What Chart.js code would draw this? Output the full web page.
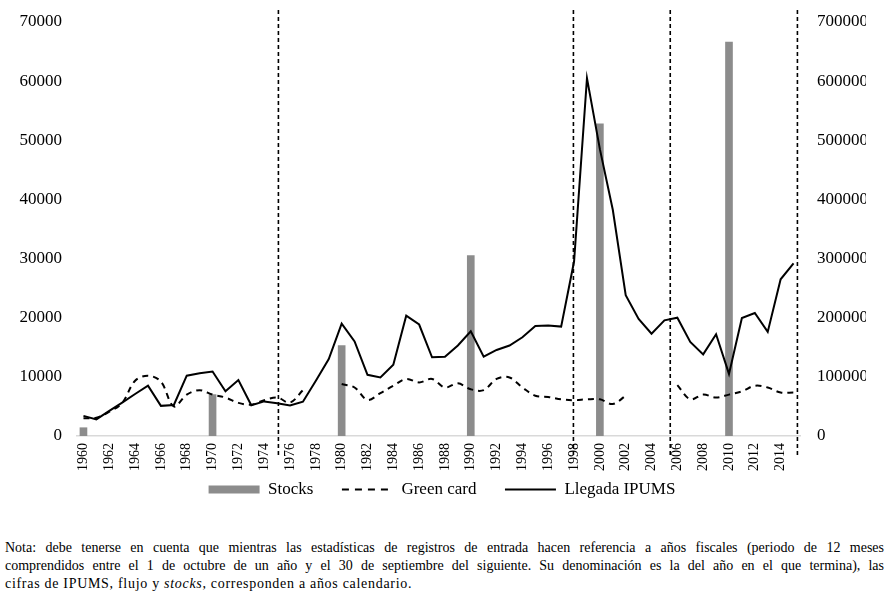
<!DOCTYPE html>
<html>
<head>
	<title>Stocks, Green card y Llegada IPUMS</title>
	<style>
		body { margin: 0; background: #fff; }
		#wrap { position: relative; width: 887px; height: 596px; }
		#nota { position: absolute; left: 5px; top: 539px; width: 879px; font-family: 'Liberation Serif', 'Times New Roman', serif; font-size: 14px; line-height: 18px; color: #000; }
		#nota .j { text-align: justify; text-align-last: justify; }
		#nota .u { letter-spacing: 0.7px; }
	</style>
	<script src="https://cdn.jsdelivr.net/npm/chart.js@4.4.0/dist/chart.umd.min.js"></script>
</head>
<body>
<div id="wrap">
	<canvas id="grafico" width="887" height="508"></canvas>
	<div id="nota">
		<div class="j">Nota: debe tenerse en cuenta que mientras las estadísticas de registros de entrada hacen referencia a años fiscales (periodo de 12 meses</div>
		<div class="j">comprendidos entre el 1 de octubre de un año y el 30 de septiembre del siguiente. Su denominación es la del año en el que termina), las</div>
		<div class="u">cifras de IPUMS, flujo y <i>stocks</i>, corresponden a años calendario.</div>
	</div>
</div>

<script type="text/javascript">

	// años 1960-2015
	var years = [1960, 1961, 1962, 1963, 1964, 1965, 1966, 1967, 1968, 1969,
		1970, 1971, 1972, 1973, 1974, 1975, 1976, 1977, 1978, 1979,
		1980, 1981, 1982, 1983, 1984, 1985, 1986, 1987, 1988, 1989,
		1990, 1991, 1992, 1993, 1994, 1995, 1996, 1997, 1998, 1999,
		2000, 2001, 2002, 2003, 2004, 2005, 2006, 2007, 2008, 2009,
		2010, 2011, 2012, 2013, 2014, 2015];

	// stocks censales (eje derecho)
	var stocks = [14000, null, null, null, null, null, null, null, null, null,
		70000, null, null, null, null, null, null, null, null, null,
		153000, null, null, null, null, null, null, null, null, null,
		305000, null, null, null, null, null, null, null, null, null,
		528000, null, null, null, null, null, null, null, null, null,
		666000, null, null, null, null, null];

	// green cards (eje izquierdo)
	var greenCard = [3000, 3100, 4100, 5600, 9350, 10200, 9200, 5000, 7000, 7750,
		7000, 6500, 5600, 5300, 6050, 6500, 5650, 7750, null, null,
		8800, 8200, 6100, 7250, 8500, 9650, 9050, 9650, 8200, 8900,
		7900, 7750, 9650, 9900, 8200, 6800, 6600, 6200, 6050, 6200,
		6200, 5400, 6800, null, null, null, 8600, 6200, 7000, 6500,
		7000, 7550, 8500, 8200, 7350, 7350];

	// llegadas segun IPUMS (eje izquierdo)
	var llegadaIpums = [3400, 2800, 4250, 5650, 7100, 8500, 5100, 5250, 10200, 10600,
		10900, 7550, 9450, 5200, 5850, 5550, 5150, 5800, 9350, 13000,
		19000, 16000, 10350, 9900, 12050, 20350, 18850, 13300, 13400, 15300,
		17700, 13400, 14550, 15300, 16700, 18600, 18700, 18500, 29500, 60500,
		48500, 38250, 23800, 19800, 17300, 19550, 20000, 15900, 13800, 17200,
		10500, 19950, 20800, 17600, 26500, 29200];

	var leftTicks = [0, 10000, 20000, 30000, 40000, 50000, 60000, 70000];
	var rightTicks = [0, 100000, 200000, 300000, 400000, 500000, 600000, 700000];

	// lineas verticales discontinuas (cortes de periodo)
	var cortes = [1975.1, 1997.95, 2005.45, 2015.3];

	var serif = "'Liberation Serif', 'Times New Roman', Times, serif";

	var cortesPlugin = {
		id: 'cortes',
		afterDatasetsDraw: function(chart) {
			var ctx = chart.ctx;
			var xs = chart.scales.x;
			var area = chart.chartArea;
			ctx.save();
			ctx.strokeStyle = '#000';
			ctx.lineWidth = 1.6;
			ctx.setLineDash([4, 3]);
			for (var i = 0; i < cortes.length; i++) {
				var px = xs.getPixelForValue(cortes[i] - years[0]);
				ctx.beginPath();
				ctx.moveTo(px, area.top - 12);
				ctx.lineTo(px, area.bottom + 20);
				ctx.stroke();
			}
			ctx.restore();
		}
	};

	function fixWidth(w) {
		return function(axis) {
			axis.width = w;
			axis.paddingTop = 0;
			axis.paddingBottom = 0;
		};
	}

	function makeChart() {
		new Chart('grafico', {
			data: {
				labels: years,
				datasets: [
					{
						type: 'line',
						label: 'Llegada IPUMS',
						data: llegadaIpums,
						yAxisID: 'y',
						borderColor: '#000',
						borderWidth: 2,
						pointRadius: 0,
						tension: 0,
						order: 1
					},
					{
						type: 'line',
						label: 'Green card',
						data: greenCard,
						yAxisID: 'y',
						borderColor: '#000',
						borderWidth: 2,
						borderDash: [6, 5],
						pointRadius: 0,
						tension: 0.35,
						spanGaps: false,
						order: 2
					},
					{
						type: 'bar',
						label: 'Stocks',
						data: stocks,
						yAxisID: 'y1',
						backgroundColor: '#8c8c8c',
						barThickness: 7,
						order: 3
					}
				]
			},
			options: {
				responsive: false,
				animation: false,
				layout: { padding: { top: 22, left: 18, right: 21, bottom: 0 } },
				scales: {
					x: {
						offset: true,
						grid: { display: false, drawTicks: false },
						border: { display: true, color: '#d9d9d9', width: 1.5 },
						afterFit: function(axis) {
							axis.paddingLeft = 0;
							axis.paddingRight = 0;
						},
						ticks: {
							autoSkip: false,
							minRotation: 90,
							maxRotation: 90,
							padding: 7,
							color: '#000',
							font: { family: serif, size: 14 },
							callback: function(val, idx) {
								return years[idx] % 2 === 0 ? String(years[idx]) : '';
							}
						}
					},
					y: {
						position: 'left',
						min: 0,
						max: 70000,
						grid: { display: false, drawTicks: false },
						border: { display: false },
						afterBuildTicks: function(axis) {
							axis.ticks = leftTicks.map(function(v) { return { value: v }; });
						},
						afterFit: fixWidth(59),
						ticks: {
							padding: 15,
							color: '#000',
							font: { family: serif, size: 17 },
							callback: function(v) { return String(v); }
						}
					},
					y1: {
						position: 'right',
						min: 0,
						max: 700000,
						grid: { display: false, drawTicks: false },
						border: { display: false },
						afterBuildTicks: function(axis) {
							axis.ticks = rightTicks.map(function(v) { return { value: v }; });
						},
						afterFit: fixWidth(66),
						ticks: {
							padding: 17,
							color: '#000',
							font: { family: serif, size: 17 },
							callback: function(v) { return String(v); }
						}
					}
				},
				plugins: {
					tooltip: { enabled: false },
					legend: {
						position: 'bottom',
						labels: {
							usePointStyle: true,
							pointStyleWidth: 51,
							boxHeight: 8,
							padding: 3,
							color: '#000',
							font: { family: serif, size: 17 },
							generateLabels: function() {
								return [
									{ text: 'Stocks      ', fillStyle: '#8c8c8c', strokeStyle: '#8c8c8c', lineWidth: 0, pointStyle: 'rect', datasetIndex: 2, hidden: false },
									{ text: 'Green card      ', fillStyle: '#000', strokeStyle: '#000', lineWidth: 2, lineDash: [7, 6], pointStyle: 'line', datasetIndex: 1, hidden: false },
									{ text: 'Llegada IPUMS', fillStyle: '#000', strokeStyle: '#000', lineWidth: 2, lineDash: [], pointStyle: 'line', datasetIndex: 0, hidden: false }
								];
							}
						}
					}
				}
			},
			plugins: [cortesPlugin]
		});
	}

	window.onload = makeChart;

</script>
</body>
</html>
